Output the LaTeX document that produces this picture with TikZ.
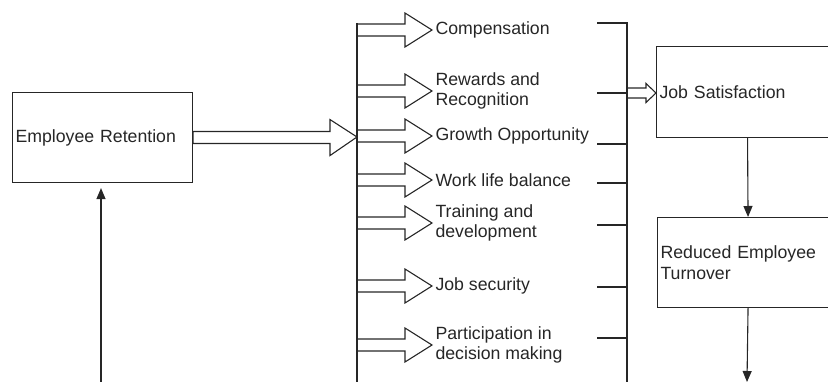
\documentclass[tikz,border=0pt]{standalone}
\usepackage{fontspec}
\setmainfont{Liberation Sans}
\usetikzlibrary{
	positioning,  %relative placement of the labels
	calc,         %let ... in for the hollow arrows
	arrows.meta   %arrow tips
}
\tikzset{
	every picture/.style={
		>={Triangle[width=9pt,length=11pt]},
		x=1pt, y=-1pt,
		line width=1.1pt
	},
	every node/.style={font=\fontsize{17.7}{20.5}\selectfont, text=black!85},
	box/.style={draw=black!85, rectangle, inner xsep=3pt, align=left, anchor=north west},
	factor/.style={inner xsep=3pt, inner ysep=0pt, align=left, anchor=west},
	% hollow block arrow: head length, head half width, shaft half width
	hollow/.style n args={3}{to path={let \p1=(\tikztostart), \p2=(\tikztotarget) in
		(\x1,\y1+#3) -- (\x2-#1,\y1+#3) -- (\x2-#1,\y1+#2) -- (\x2,\y2)
		-- (\x2-#1,\y1-#2) -- (\x2-#1,\y1-#3) -- (\x1,\y1-#3) -- cycle}}
}
\begin{document}
\begin{tikzpicture}[draw=black!85]
	\useasboundingbox (0,0) rectangle (828,382);
	% boxes
	\node[box, text width=174pt, minimum height=90pt] (ret) at (12,92) {Employee Retention};
	\node[box, text width=176pt, minimum height=91pt] (sat) at (656,46) {Job Satisfaction};
	\node[box, text width=175pt, minimum height=90pt] (turn) at (657,217) {Reduced Employee\\Turnover};
	% retention into the factors
	\coordinate (hub) at (357,137);
	\draw (ret.east) to[hollow={27pt}{18pt}{6pt}] (hub);
	\draw (357,23) -- (357,382);
	% the factors
	\foreach \y/\lab [count=\i] in {30/Compensation, 91/{Rewards and\\Recognition},
		136/Growth Opportunity, 180/Work life balance, 223/{Training and\\development},
		286/Job security, 345/{Participation in\\decision making}}{
		\coordinate (s\i) at (357,\y);
		\coordinate (t\i) at (432,\y);
		\draw (s\i) to[hollow={27pt}{17pt}{6pt}] (t\i);
		\node[factor, right=0pt of t\i] (f\i) {\lab};
	}
	% bracket on the right
	\draw (597,23) -| (627,382);
	\foreach \y in {93,144,183,225,287,338}
		\draw (597,\y) -- (627,\y);
	\coordinate (bar) at (627,93);
	\draw (bar) to[hollow={10pt}{9.5pt}{5pt}] (sat.west |- bar);
	% vertical arrows
	\draw[->] (sat.south) -- (turn.north);
	\coordinate (out) at (747,382);
	\draw[->] (turn.south) -- (out);
	\coordinate (src) at (101,382);
	\draw[->, shorten >=5pt] (src) -- (src |- ret.south);
\end{tikzpicture}
\end{document}
